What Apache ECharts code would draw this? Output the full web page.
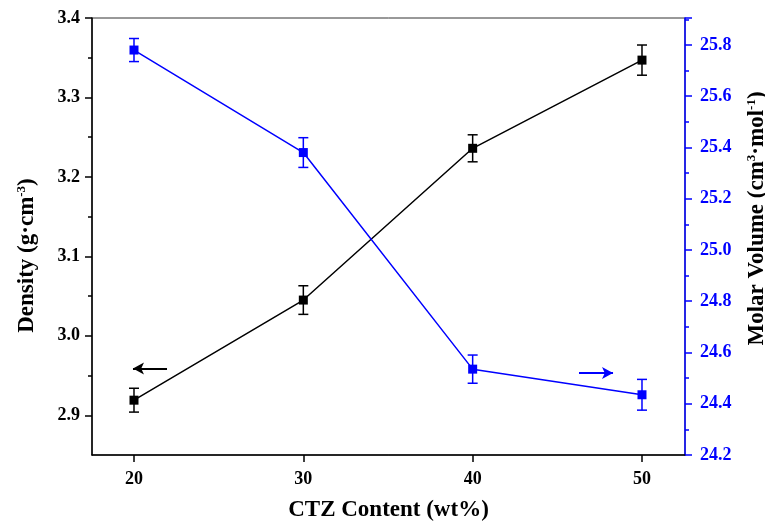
<!DOCTYPE html>
<html>
<head>
<meta charset="utf-8">
<script src="https://cdn.jsdelivr.net/npm/echarts@6/dist/echarts.min.js"></script>
<style>
  html, body { margin: 0; padding: 0; background: #fff; }
  #chart { width: 765px; height: 524px; }
</style>
</head>
<body>
<div id="chart"></div>
<script>
var content = [20, 30, 40, 50];
var density = [2.919, 3.045, 3.236, 3.347];
var densityErr = [0.015, 0.018, 0.017, 0.019];
var molarVolume = [25.78, 25.38, 24.535, 24.435];
var molarErr = [0.045, 0.058, 0.055, 0.06];

var xTicks = [20, 30, 40, 50];
var leftTicks = [2.9, 3.0, 3.1, 3.2, 3.3, 3.4];
var leftMinor = [2.95, 3.05, 3.15, 3.25, 3.35];

// arrows pointing to the matching axis, in data units
var leftArrow = [[21.95, 2.959], [19.94, 2.959]];
var rightArrow = [[46.28, 24.52], [48.29, 24.52]];

var font = 'Liberation Serif';
var blue = '#0000ff';

function pairs(xs, ys) {
    return xs.map(function (x, i) { return [x, ys[i]]; });
}
function errData(xs, ys, es) {
    return xs.map(function (x, i) { return [x, ys[i] - es[i], ys[i] + es[i]]; });
}
function errRender(color) {
    return function (params, api) {
        var lo = api.coord([api.value(0), api.value(1)]);
        var hi = api.coord([api.value(0), api.value(2)]);
        var w = 5;
        var st = { stroke: color, lineWidth: 1.5 };
        return {
            type: 'group',
            children: [
                { type: 'line', shape: { x1: lo[0], y1: lo[1], x2: hi[0], y2: hi[1] }, style: st },
                { type: 'line', shape: { x1: lo[0] - w, y1: lo[1], x2: lo[0] + w, y2: lo[1] }, style: st },
                { type: 'line', shape: { x1: hi[0] - w, y1: hi[1], x2: hi[0] + w, y2: hi[1] }, style: st }
            ]
        };
    };
}
function arrow(pts, color) {
    return {
        silent: true,
        symbol: ['none', 'arrow'],
        symbolSize: [9, 11],
        label: { show: false },
        lineStyle: { color: color, width: 2, type: 'solid' },
        data: [[{ coord: pts[0] }, { coord: pts[1] }]]
    };
}
var supStyle = { fontFamily: font, fontWeight: 'bold', fontSize: 13, color: '#000', verticalAlign: 'top', padding: [0, 0, 12, 0] };

var myChart = echarts.init(document.getElementById('chart'));
var option = {
    backgroundColor: '#fff',
    animation: false,
    grid: {
        left: 92, right: 80, top: 18, bottom: 69,
        outerBoundsMode: 'none',
        show: true, borderColor: '#333', borderWidth: 1
    },
    xAxis: {
        type: 'value',
        min: 17.52, max: 52.54,
        name: 'CTZ Content (wt%)',
        nameLocation: 'middle',
        nameGap: 44,
        nameTextStyle: { fontFamily: font, fontWeight: 'bold', fontSize: 23, color: '#000' },
        axisLine: { lineStyle: { color: '#000', width: 1.5 } },
        axisTick: { show: true, inside: false, length: 7, customValues: xTicks, lineStyle: { color: '#000', width: 1.5 } },
        axisLabel: { customValues: xTicks, margin: 15, fontFamily: font, fontWeight: 'bold', fontSize: 18, color: '#000' },
        splitLine: { show: false }
    },
    yAxis: [{
        type: 'value',
        position: 'left',
        min: 2.85, max: 3.4,
        name: 'Density (g·cm{sup|-3})',
        nameLocation: 'middle',
        nameRotate: 90,
        nameGap: 52,
        nameTextStyle: {
            fontFamily: font, fontWeight: 'bold', fontSize: 23, color: '#000',
            padding: [0, 38, 0, 0],
            rich: { sup: supStyle }
        },
        axisLine: { show: true, lineStyle: { color: '#000', width: 1.5 } },
        axisTick: { show: true, length: 7, customValues: leftTicks, lineStyle: { color: '#000', width: 1.5 } },
        axisLabel: {
            customValues: leftTicks, margin: 12,
            fontFamily: font, fontWeight: 'bold', fontSize: 18, color: '#000',
            formatter: function (v) { return v.toFixed(1); }
        },
        splitLine: { show: false }
    }, {
        type: 'value',
        position: 'right',
        min: 24.2, max: 25.905,
        interval: 0.2,
        name: 'Molar Volume (cm{sup|3}·mol{sup|-1})',
        nameLocation: 'middle',
        nameRotate: 90,
        nameGap: 60,
        nameTextStyle: {
            fontFamily: font, fontWeight: 'bold', fontSize: 23, color: '#000',
            padding: [0, 0, 0, 36],
            rich: { sup: supStyle }
        },
        axisLine: { show: true, lineStyle: { color: blue, width: 1.5 } },
        axisTick: { show: true, length: 7, lineStyle: { color: blue, width: 1.5 } },
        minorTick: { show: true, splitNumber: 2, length: 4, lineStyle: { color: blue, width: 1.5 } },
        axisLabel: {
            margin: 15, showMaxLabel: false,
            fontFamily: font, fontWeight: 'bold', fontSize: 18, color: blue,
            formatter: function (v) { return v.toFixed(1); }
        },
        splitLine: { show: false }
    }, {
        type: 'value',
        position: 'left',
        min: 2.85, max: 3.4,
        axisLine: { show: false },
        axisTick: { show: true, length: 4, customValues: leftMinor, lineStyle: { color: '#000', width: 1.5 } },
        axisLabel: { show: false },
        splitLine: { show: false }
    }],
    series: [{
        type: 'custom',
        yAxisIndex: 0,
        renderItem: errRender('#000'),
        encode: { x: 0, y: [1, 2] },
        data: errData(content, density, densityErr),
        z: 2
    }, {
        type: 'custom',
        yAxisIndex: 1,
        renderItem: errRender(blue),
        encode: { x: 0, y: [1, 2] },
        data: errData(content, molarVolume, molarErr),
        z: 2
    }, {
        name: 'Density',
        type: 'line',
        yAxisIndex: 0,
        data: pairs(content, density),
        symbol: 'rect',
        symbolSize: 9,
        itemStyle: { color: '#000' },
        lineStyle: { color: '#000', width: 1.5 },
        markLine: arrow(leftArrow, '#000'),
        z: 3
    }, {
        name: 'Molar Volume',
        type: 'line',
        yAxisIndex: 1,
        data: pairs(content, molarVolume),
        symbol: 'rect',
        symbolSize: 9,
        itemStyle: { color: blue },
        lineStyle: { color: blue, width: 1.5 },
        markLine: arrow(rightArrow, blue),
        z: 3
    }]
};
myChart.setOption(option);
</script>
</body>
</html>
